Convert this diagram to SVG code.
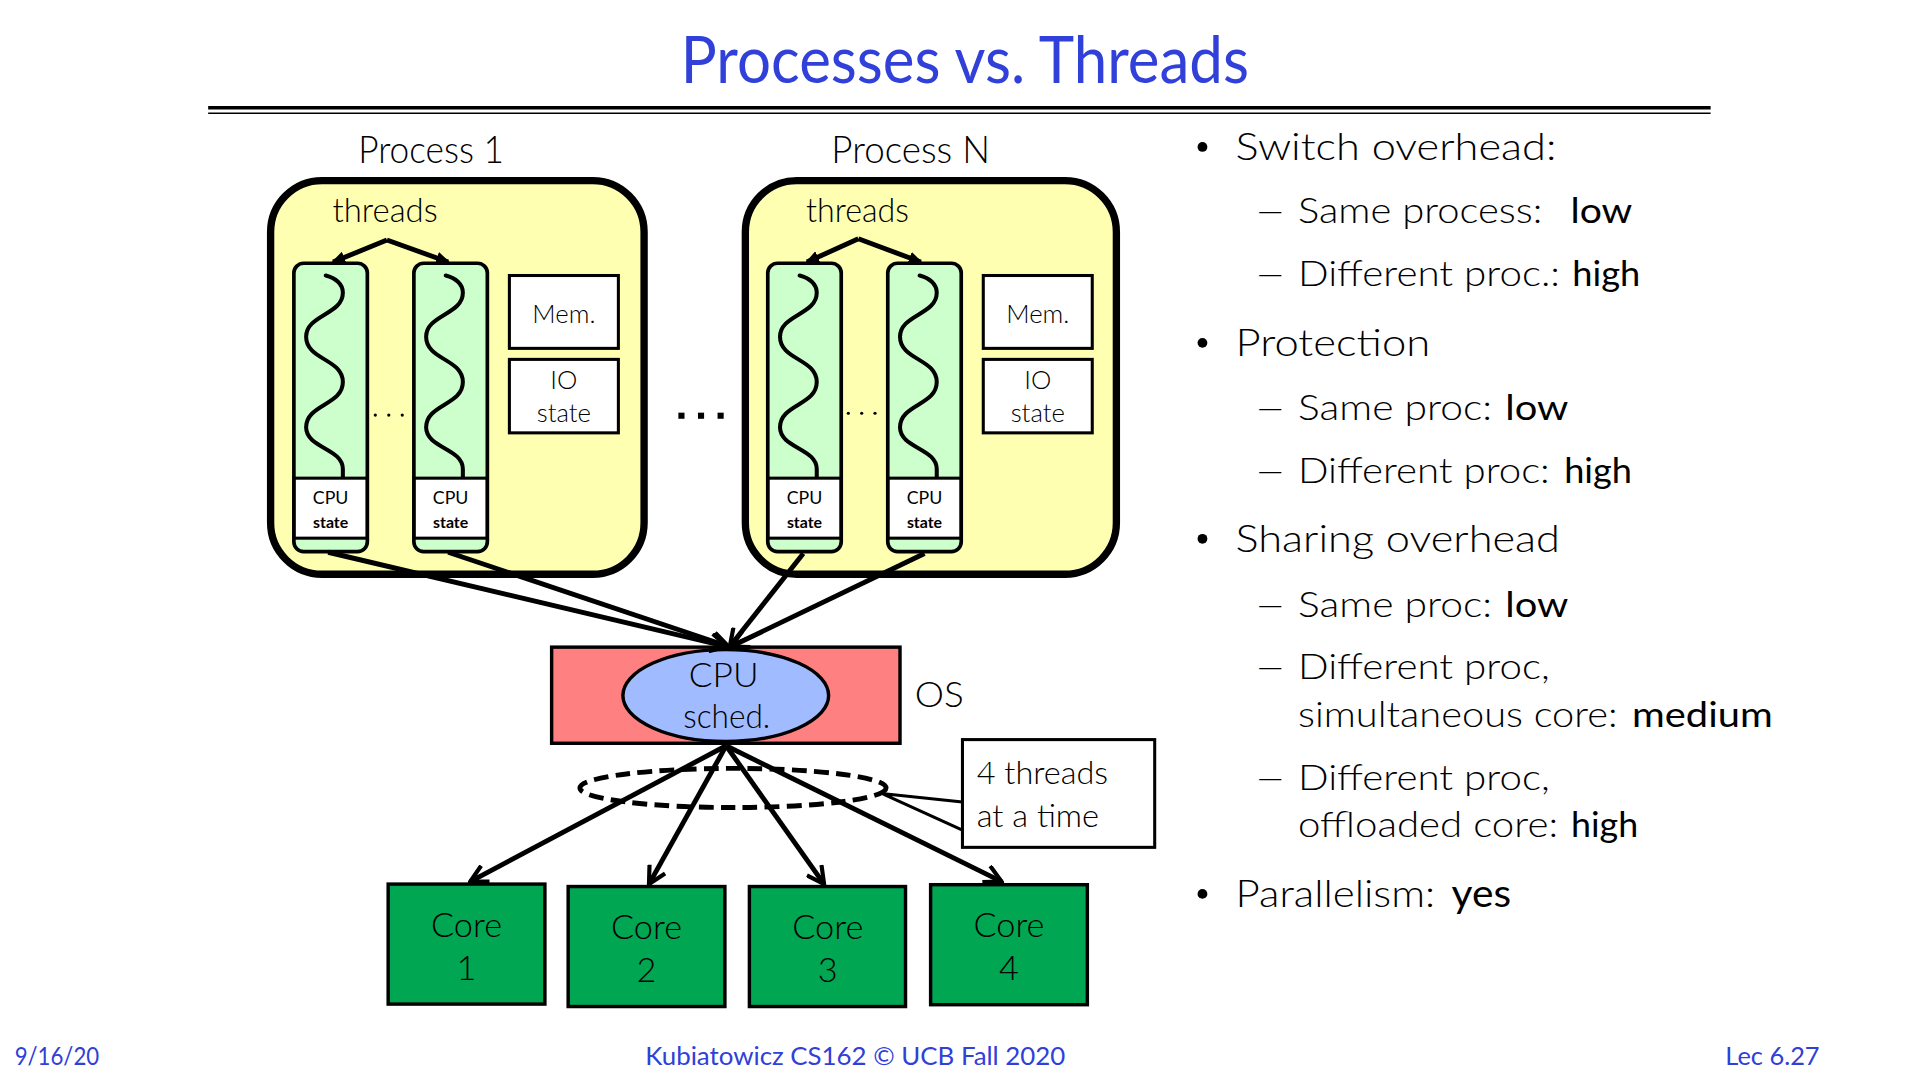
<svg xmlns="http://www.w3.org/2000/svg" xmlns:xlink="http://www.w3.org/1999/xlink" width="1920" height="1080" viewBox="0 0 1920 1080">
<style>
text{font-family:Lato,"Liberation Sans","DejaVu Sans",sans-serif;fill:#000}
.lt{font-weight:300}
.rg{font-weight:400}
.bd{font-weight:700}
.blue{fill:#3040D8;font-weight:400}
.mid{text-anchor:middle}
.proc{fill:#FFFFB2;stroke:#000;stroke-width:6}
.thr{fill:#CCFFCC;stroke:none}
.thro{fill:none;stroke:#000;stroke-width:3}
.cpus{fill:#fff;stroke:#000;stroke-width:2.5}
.box{fill:#fff;stroke:#000;stroke-width:2.5}
.wave{fill:none;stroke:#000;stroke-width:3.3;stroke-linecap:round}
.core{fill:#00A651;stroke:#000;stroke-width:2.8}
.conn{fill:none;stroke:#000;stroke-width:4}
.dash{font-weight:300;font-size:29px}
</style>
<defs>
<marker id="arr" viewBox="0 0 14 14" refX="12.5" refY="7" markerWidth="17" markerHeight="17" markerUnits="userSpaceOnUse" orient="auto">
<path d="M1,1 L12.5,7 L1,13" fill="none" stroke="#000" stroke-width="2.8"/>
</marker>
<marker id="arrs" viewBox="0 0 14 14" refX="12.5" refY="7" markerWidth="11" markerHeight="11" markerUnits="userSpaceOnUse" orient="auto">
<path d="M1,2 L12.5,7 L1,12 Z" fill="#000" stroke="#000" stroke-width="2"/>
</marker>
<path id="wave" class="wave" d="M26 10 C34 12 40 17 40 24 C40 42 10 42 10 60 C10 79 40 78 40 97 C40 116 10 115 10 134 C10 151 40 151 40 168 L40 175.5"/>
</defs>
<rect width="1920" height="1080" fill="#fff"/>
<g transform="scale(1.2245)">
<g id="title">
<text class="blue mid" x="788" y="68" font-size="54" textLength="464" lengthAdjust="spacingAndGlyphs">Processes vs. Threads</text>
<line x1="170" y1="88" x2="1397" y2="88" stroke="#000" stroke-width="3"/>
<line x1="170" y1="92.5" x2="1397" y2="92.5" stroke="#000" stroke-width="1.3"/>
</g>

<g id="process1">
<text class="lt mid" x="352" y="133.5" font-size="31" textLength="119" lengthAdjust="spacingAndGlyphs">Process 1</text>
<rect class="proc" x="221" y="147.5" width="305" height="321.5" rx="42"/>
<text class="lt mid" x="314.5" y="181" font-size="27" textLength="86" lengthAdjust="spacingAndGlyphs">threads</text>
<g id="p1-thread1">
<rect class="thr" x="240" y="215" width="60" height="235.5" rx="8"/>
<use xlink:href="#wave" x="240" y="215"/>
<rect class="cpus" x="240" y="390.5" width="60" height="49"/>
<rect class="thro" x="240" y="215" width="60" height="235.5" rx="8"/>
<text class="rg mid" x="270" y="411.5" font-size="14.5">CPU</text>
<text class="bd mid" x="270" y="431.5" font-size="13">state</text>
</g>
<g id="p1-thread2">
<rect class="thr" x="338" y="215" width="60" height="235.5" rx="8"/>
<use xlink:href="#wave" x="338" y="215"/>
<rect class="cpus" x="338" y="390.5" width="60" height="49"/>
<rect class="thro" x="338" y="215" width="60" height="235.5" rx="8"/>
<text class="rg mid" x="368" y="411.5" font-size="14.5">CPU</text>
<text class="bd mid" x="368" y="431.5" font-size="13">state</text>
</g>
<circle cx="306.5" cy="339" r="1.3"/><circle cx="317.5" cy="339" r="1.3"/><circle cx="328.5" cy="339" r="1.3"/>
<g id="p1-mem">
<rect class="box" x="416" y="225" width="89" height="59.5"/>
<text class="lt mid" x="460.5" y="263.5" font-size="21">Mem.</text>
</g>
<g id="p1-io">
<rect class="box" x="416" y="293.5" width="89" height="60"/>
<text class="lt mid" x="460.5" y="318" font-size="21">IO</text>
<text class="lt mid" x="460.5" y="344.5" font-size="21">state</text>
</g>
</g>

<g id="dots-between">
<rect x="554" y="337" width="5" height="5"/><rect x="570" y="337" width="5" height="5"/><rect x="586" y="337" width="5" height="5"/>
</g>

<g id="processN">
<text class="lt mid" x="743.7" y="133.5" font-size="31" textLength="129.5" lengthAdjust="spacingAndGlyphs">Process N</text>
<rect class="proc" x="608.7" y="147.5" width="303" height="321.5" rx="42"/>
<text class="lt mid" x="700.3" y="181" font-size="27" textLength="84" lengthAdjust="spacingAndGlyphs">threads</text>
<g id="pN-thread1">
<rect class="thr" x="627" y="215" width="60" height="235.5" rx="8"/>
<use xlink:href="#wave" x="627" y="215"/>
<rect class="cpus" x="627" y="390.5" width="60" height="49"/>
<rect class="thro" x="627" y="215" width="60" height="235.5" rx="8"/>
<text class="rg mid" x="657" y="411.5" font-size="14.5">CPU</text>
<text class="bd mid" x="657" y="431.5" font-size="13">state</text>
</g>
<g id="pN-thread2">
<rect class="thr" x="725" y="215" width="60" height="235.5" rx="8"/>
<use xlink:href="#wave" x="725" y="215"/>
<rect class="cpus" x="725" y="390.5" width="60" height="49"/>
<rect class="thro" x="725" y="215" width="60" height="235.5" rx="8"/>
<text class="rg mid" x="755" y="411.5" font-size="14.5">CPU</text>
<text class="bd mid" x="755" y="431.5" font-size="13">state</text>
</g>
<circle cx="692.8" cy="337.5" r="1.3"/><circle cx="703.7" cy="337.5" r="1.3"/><circle cx="714.6" cy="337.5" r="1.3"/>
<g id="pN-mem">
<rect class="box" x="803" y="225" width="89" height="59.5"/>
<text class="lt mid" x="847.5" y="263.5" font-size="21">Mem.</text>
</g>
<g id="pN-io">
<rect class="box" x="803" y="293.5" width="89" height="60"/>
<text class="lt mid" x="847.5" y="318" font-size="21">IO</text>
<text class="lt mid" x="847.5" y="344.5" font-size="21">state</text>
</g>
</g>

<g id="os">
<rect x="450.5" y="528.5" width="284.5" height="78.5" fill="#FF8080" stroke="#000" stroke-width="2.8"/>
<text class="lt" x="747" y="577" font-size="29" textLength="40" lengthAdjust="spacingAndGlyphs">OS</text>
</g>
<g id="cpu-sched">
<ellipse cx="592.7" cy="568" rx="84" ry="37.5" fill="#A0BBFF" stroke="#000" stroke-width="2.8"/>
<text class="lt mid" x="591" y="561" font-size="27" textLength="57" lengthAdjust="spacingAndGlyphs">CPU</text>
<text class="lt mid" x="593.5" y="594.6" font-size="27" textLength="71" lengthAdjust="spacingAndGlyphs">sched.</text>
</g>

<g id="four-at-a-time">
<ellipse cx="598.6" cy="643.5" rx="125" ry="16" fill="none" stroke="#000" stroke-width="4" stroke-dasharray="12 6"/>
</g>

<g id="callout">
<polyline points="786,655 720,648 786,678" fill="none" stroke="#000" stroke-width="2.5"/>
<rect class="box" x="786" y="604" width="157" height="88"/>
<text class="lt" x="797.6" y="640.2" font-size="26" textLength="107.4" lengthAdjust="spacingAndGlyphs">4 threads</text>
<text class="lt" x="797.6" y="675.6" font-size="26" textLength="100" lengthAdjust="spacingAndGlyphs">at a time</text>
</g>

<g id="connectors">
<line class="conn" x1="316" y1="196" x2="272" y2="214" marker-end="url(#arrs)"/>
<line class="conn" x1="316" y1="196" x2="366" y2="214" marker-end="url(#arrs)"/>
<line class="conn" x1="701" y1="195" x2="659" y2="214" marker-end="url(#arrs)"/>
<line class="conn" x1="701" y1="195" x2="752" y2="214" marker-end="url(#arrs)"/>
<line class="conn" x1="268" y1="451" x2="594" y2="528" marker-end="url(#arr)"/>
<line class="conn" x1="366" y1="451" x2="595" y2="528" marker-end="url(#arr)"/>
<line class="conn" x1="656" y1="452" x2="596" y2="528" marker-end="url(#arr)"/>
<line class="conn" x1="755" y1="452" x2="597" y2="528" marker-end="url(#arr)"/>
<line class="conn" x1="593" y1="609" x2="384" y2="720" marker-end="url(#arr)"/>
<line class="conn" x1="593" y1="609" x2="530" y2="722" marker-end="url(#arr)"/>
<line class="conn" x1="593" y1="609" x2="673" y2="722" marker-end="url(#arr)"/>
<line class="conn" x1="593" y1="609" x2="818" y2="720" marker-end="url(#arr)"/>
</g>

<g id="core1">
<rect class="core" x="317" y="722" width="128" height="98"/>
<text class="lt mid" x="381" y="765" font-size="28" textLength="58" lengthAdjust="spacingAndGlyphs">Core</text>
<text class="lt mid" x="381" y="800" font-size="28">1</text>
</g>
<g id="core2">
<rect class="core" x="464" y="724" width="128" height="98"/>
<text class="lt mid" x="528" y="767" font-size="28" textLength="58" lengthAdjust="spacingAndGlyphs">Core</text>
<text class="lt mid" x="528" y="802" font-size="28">2</text>
</g>
<g id="core3">
<rect class="core" x="612" y="724" width="127.5" height="98"/>
<text class="lt mid" x="676" y="767" font-size="28" textLength="58" lengthAdjust="spacingAndGlyphs">Core</text>
<text class="lt mid" x="676" y="802" font-size="28">3</text>
</g>
<g id="core4">
<rect class="core" x="760" y="722.5" width="128" height="98"/>
<text class="lt mid" x="824" y="765.5" font-size="28" textLength="58" lengthAdjust="spacingAndGlyphs">Core</text>
<text class="lt mid" x="824" y="800.5" font-size="28">4</text>
</g>

<g id="bullets">
<circle cx="982" cy="120" r="4"/>
<text class="lt" x="1009" y="130.7" font-size="31" textLength="262" lengthAdjust="spacingAndGlyphs">Switch overhead:</text>
<text class="dash" transform="translate(1024 182.4) scale(1.58 1)">–</text>
<text class="lt" x="1060" y="182.4" font-size="29" textLength="199.6" lengthAdjust="spacingAndGlyphs">Same process:</text>
<text class="rg" x="1282.5" y="182.4" font-size="29" textLength="50.5" lengthAdjust="spacingAndGlyphs">low</text>
<text class="dash" transform="translate(1024 233.5) scale(1.58 1)">–</text>
<text class="lt" x="1060" y="233.5" font-size="29" textLength="214" lengthAdjust="spacingAndGlyphs">Different proc.:</text>
<text class="rg" x="1284" y="233.5" font-size="29" textLength="55.5" lengthAdjust="spacingAndGlyphs">high</text>

<circle cx="982" cy="280" r="4"/>
<text class="lt" x="1009" y="290.7" font-size="31" textLength="159" lengthAdjust="spacingAndGlyphs">Protection</text>
<text class="dash" transform="translate(1024 343) scale(1.58 1)">–</text>
<text class="lt" x="1060" y="343" font-size="29" textLength="158.6" lengthAdjust="spacingAndGlyphs">Same proc:</text>
<text class="rg" x="1229.3" y="343" font-size="29" textLength="51.5" lengthAdjust="spacingAndGlyphs">low</text>
<text class="dash" transform="translate(1024 394.2) scale(1.58 1)">–</text>
<text class="lt" x="1060" y="394.2" font-size="29" textLength="205.6" lengthAdjust="spacingAndGlyphs">Different proc:</text>
<text class="rg" x="1277.4" y="394.2" font-size="29" textLength="55.4" lengthAdjust="spacingAndGlyphs">high</text>

<circle cx="982" cy="440" r="4"/>
<text class="lt" x="1009" y="450.5" font-size="31" textLength="265" lengthAdjust="spacingAndGlyphs">Sharing overhead</text>
<text class="dash" transform="translate(1024 503.6) scale(1.58 1)">–</text>
<text class="lt" x="1060" y="503.6" font-size="29" textLength="158.6" lengthAdjust="spacingAndGlyphs">Same proc:</text>
<text class="rg" x="1229.3" y="503.6" font-size="29" textLength="51.5" lengthAdjust="spacingAndGlyphs">low</text>
<text class="dash" transform="translate(1024 554.8) scale(1.58 1)">–</text>
<text class="lt" x="1060" y="554.8" font-size="29" textLength="205.6" lengthAdjust="spacingAndGlyphs">Different proc,</text>
<text class="lt" x="1060" y="593.4" font-size="29" textLength="261" lengthAdjust="spacingAndGlyphs">simultaneous core:</text>
<text class="rg" x="1332.8" y="593.4" font-size="29" textLength="114.9" lengthAdjust="spacingAndGlyphs">medium</text>
<text class="dash" transform="translate(1024 645.2) scale(1.58 1)">–</text>
<text class="lt" x="1060" y="645.2" font-size="29" textLength="205.6" lengthAdjust="spacingAndGlyphs">Different proc,</text>
<text class="lt" x="1060" y="683.3" font-size="29" textLength="212.4" lengthAdjust="spacingAndGlyphs">offloaded core:</text>
<text class="rg" x="1283" y="683.3" font-size="29" textLength="54.9" lengthAdjust="spacingAndGlyphs">high</text>

<circle cx="982" cy="730" r="4"/>
<text class="lt" x="1009" y="740.4" font-size="31" textLength="163" lengthAdjust="spacingAndGlyphs">Parallelism:</text>
<text class="rg" x="1185.4" y="740.4" font-size="31" textLength="48.6" lengthAdjust="spacingAndGlyphs">yes</text>
</g>

<g id="footer">
<text class="blue" x="12" y="869.5" font-size="21" textLength="69" lengthAdjust="spacingAndGlyphs">9/16/20</text>
<text class="blue" x="527" y="869.5" font-size="21" textLength="343" lengthAdjust="spacingAndGlyphs">Kubiatowicz CS162 © UCB Fall 2020</text>
<text class="blue" x="1409" y="869.5" font-size="21" textLength="77" lengthAdjust="spacingAndGlyphs">Lec 6.27</text>
</g>
</g>
</svg>
